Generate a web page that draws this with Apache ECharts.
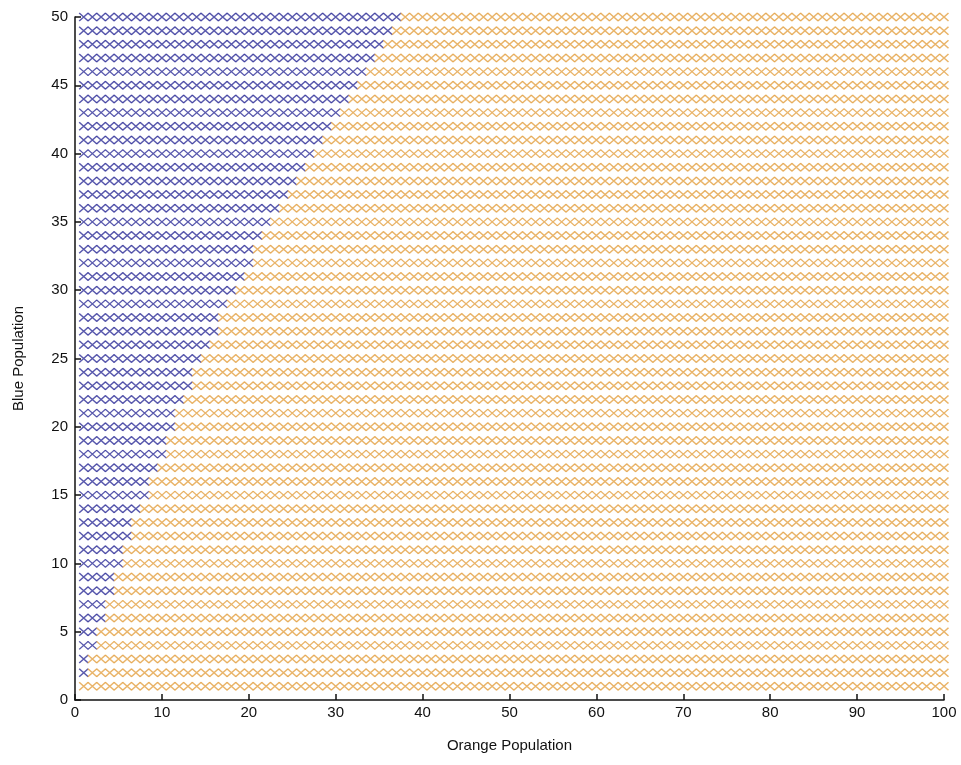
<!DOCTYPE html>
<html>
<head>
<meta charset="utf-8">
<script src="https://cdn.jsdelivr.net/npm/echarts@6/dist/echarts.min.js"></script>
<style>
  html, body { margin: 0; padding: 0; background: #fff; }
  #main { width: 961px; height: 765px; }
</style>
</head>
<body>
<div id="main"></div>
<script>
// grid extent (integer populations)
var orangeMax = 100;
var blueRows = [1, 2, 3, 4, 5, 6, 7, 8, 9, 10, 11, 12, 13, 14, 15, 16, 17, 18, 19, 20,
                21, 22, 23, 24, 25, 26, 27, 28, 29, 30, 31, 32, 33, 34, 35, 36, 37, 38, 39, 40,
                41, 42, 43, 44, 45, 46, 47, 48, 49, 50];
// highest orange population where blue still wins, per blue population row
var blueWinsUpTo = [0, 1, 1, 2, 2, 3, 3, 4, 4, 5,
                    5, 6, 6, 7, 8, 8, 9, 10, 10, 11,
                    11, 12, 13, 13, 14, 15, 16, 16, 17, 18,
                    19, 20, 20, 21, 22, 23, 24, 25, 26, 27,
                    28, 29, 30, 31, 32, 33, 34, 35, 36, 37];
var xTicks = [0, 10, 20, 30, 40, 50, 60, 70, 80, 90, 100];
var yTicks = [0, 5, 10, 15, 20, 25, 30, 35, 40, 45, 50];

var bluePts = [], orangePts = [];
for (var r = 0; r < blueRows.length; r++) {
    for (var x = 1; x <= orangeMax; x++) {
        if (x <= blueWinsUpTo[r]) bluePts.push([x, blueRows[r]]);
        else orangePts.push([x, blueRows[r]]);
    }
}

var cross = 'path://M0,0L10,10M10,0L0,10';
var font = 'Liberation Sans, Arial, sans-serif';

var chart = echarts.init(document.getElementById('main'), null, { renderer: 'canvas' });
chart.setOption({
    animation: false,
    backgroundColor: '#fff',
    grid: { left: 75, right: 17, top: 17, bottom: 65, containLabel: false },
    xAxis: {
        type: 'value', min: 0, max: 100, interval: 10,
        name: 'Orange Population', nameLocation: 'middle', nameGap: 38,
        nameTextStyle: { color: '#111', fontSize: 15, fontFamily: font },
        axisLine: { onZero: false, lineStyle: { color: '#111', width: 1.5 } },
        axisTick: { inside: true, length: 6, lineStyle: { color: '#111', width: 1.5 } },
        axisLabel: { color: '#111', fontSize: 15, fontFamily: font, margin: 5,
            formatter: function (v) { return xTicks.indexOf(v) >= 0 ? String(v) : ''; } },
        splitLine: { show: false }
    },
    yAxis: {
        type: 'value', min: 0, max: 50, interval: 5,
        name: 'Blue Population', nameLocation: 'middle', nameGap: 49, nameRotate: 90,
        nameTextStyle: { color: '#111', fontSize: 15, fontFamily: font },
        axisLine: { onZero: false, lineStyle: { color: '#111', width: 1.5 } },
        axisTick: { inside: true, length: 6, lineStyle: { color: '#111', width: 1.5 } },
        axisLabel: { color: '#111', fontSize: 15, fontFamily: font, margin: 7,
            formatter: function (v) { return yTicks.indexOf(v) >= 0 ? String(v) : ''; } },
        splitLine: { show: false }
    },
    series: [{
        name: 'Blue',
        type: 'scatter',
        symbol: cross,
        symbolSize: [9, 8],
        large: false,
        silent: true,
        itemStyle: { color: 'none', borderColor: '#2f2f98', borderWidth: 1.4 },
        data: bluePts
    }, {
        name: 'Orange',
        type: 'scatter',
        symbol: cross,
        symbolSize: [9, 8],
        large: false,
        silent: true,
        itemStyle: { color: 'none', borderColor: '#e4a144', borderWidth: 1.4 },
        data: orangePts
    }]
});
</script>
</body>
</html>
